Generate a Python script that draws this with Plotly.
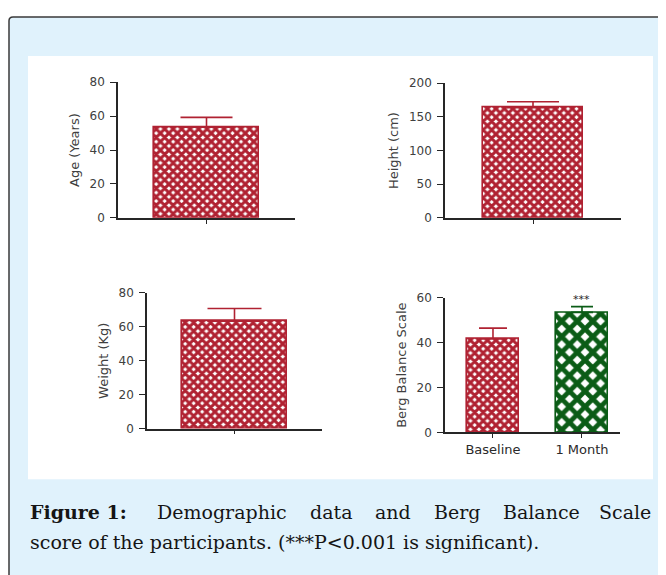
import plotly.graph_objects as go

# page body has an 8px margin, so the figure is sized/shifted to fit the 666x575 window
OFF = 8
W, H = 666 - OFF, 575 - OFF

# ---------------- data ----------------
age_cat = ["Age"]
age_mean = [53.5]
age_sem = [5.8]

height_cat = ["Height"]
height_mean = [163.8]
height_sem = [8.7]

weight_cat = ["Weight"]
weight_mean = [63.3]
weight_sem = [7.5]

berg_cat = ["Baseline", "1 Month"]
berg_mean = [41.7, 53.5]
berg_sem = [4.8, 2.6]
berg_sig = ["", "***"]

age_ticks = [0, 20, 40, 60, 80]
height_ticks = [0, 50, 100, 150, 200]
weight_ticks = [0, 20, 40, 60, 80]
berg_ticks = [0, 20, 40, 60]

caption_line1 = ["Figure 1:", "Demographic", "data", "and", "Berg", "Balance", "Scale"]
caption_line2 = "score of the participants. (***P<0.001 is significant)."

RED = "#b02232"
GREEN = "#0b5c16"
BG = "#e0f2fc"
AXC = "#262626"
TXT = "#404040"
SANS = "DejaVu Sans"


def px(x):
    return (x - OFF) / W


def py(y):
    return 1 - (y - OFF) / H


fig = go.Figure()


def bar(cats, vals, errs, color, psize, sol, xa, ya, width, capw):
    fig.add_trace(go.Bar(
        x=cats, y=vals, width=width,
        marker=dict(
            color="white",
            line=dict(color=color, width=1.6),
            pattern=dict(shape="x", fgcolor=color, bgcolor="white",
                         size=psize, solidity=sol, fillmode="replace"),
        ),
        error_y=dict(type="data", array=errs, arrayminus=[0] * len(errs),
                     symmetric=False, color=color, thickness=1.6, width=capw),
        xaxis=xa, yaxis=ya, showlegend=False,
    ))


bar(age_cat, age_mean, age_sem, RED, 6, 0.75, "x", "y", 0.59, 26)
bar(height_cat, height_mean, height_sem, RED, 6, 0.75, "x2", "y2", 0.57, 26)
bar(weight_cat, weight_mean, weight_sem, RED, 6, 0.75, "x3", "y3", 0.6, 27)
bar([berg_cat[0]], [berg_mean[0]], [berg_sem[0]], RED, 6, 0.75, "x4", "y4", 0.58, 14)
bar([berg_cat[1]], [berg_mean[1]], [berg_sem[1]], GREEN, 11, 0.68, "x4", "y4", 0.58, 11)

xcommon = dict(showline=True, linecolor=AXC, linewidth=1.6, showgrid=False,
               zeroline=False, ticks="outside", ticklen=4, tickcolor=AXC,
               tickwidth=1, fixedrange=True)
ycommon = dict(showline=True, linecolor=AXC, linewidth=1.6, showgrid=False,
               zeroline=False, ticks="outside", ticklen=6, tickcolor=AXC,
               tickwidth=1.3, tickfont=dict(family=SANS, size=12, color=TXT),
               ticklabelstandoff=3,
               title_font=dict(family=SANS, size=13, color=TXT),
               title_standoff=7, fixedrange=True)

fig.update_layout(
    width=W, height=H,
    margin=dict(l=0, r=0, t=0, b=0),
    paper_bgcolor="white", plot_bgcolor="rgba(0,0,0,0)",
    bargap=0,
    xaxis=dict(domain=[px(118), px(295)], anchor="y", range=[-0.5, 0.5],
               showticklabels=False, **xcommon),
    yaxis=dict(domain=[py(216), py(77)], anchor="x", range=[0, 80],
               tickvals=age_ticks, title_text="Age (Years)", **ycommon),
    xaxis2=dict(domain=[px(445), px(621)], anchor="y2", range=[-0.5, 0.5],
                showticklabels=False, **xcommon),
    yaxis2=dict(domain=[py(216), py(78)], anchor="x2", range=[0, 200],
                tickvals=height_ticks, title_text="Height (cm)", **ycommon),
    xaxis3=dict(domain=[px(147), px(322)], anchor="y3", range=[-0.5, 0.5],
                showticklabels=False, **xcommon),
    yaxis3=dict(domain=[py(432), py(293)], anchor="x3", range=[0, 80],
                tickvals=weight_ticks, title_text="Weight (Kg)", **ycommon),
    xaxis4=dict(domain=[px(445), px(620)], anchor="y4", range=[-0.539, 1.427],
                type="category", categoryorder="array", categoryarray=berg_cat,
                tickfont=dict(family=SANS, size=13, color="#2a2a2a"),
                **xcommon),
    yaxis4=dict(domain=[py(436), py(298)], anchor="x4", range=[0, 60],
                tickvals=berg_ticks, title_text="Berg Balance Scale", **ycommon),
)

# significance stars placed from data
for c, m, e, s in zip(berg_cat, berg_mean, berg_sem, berg_sig):
    if s:
        fig.add_annotation(x=c, y=m + e, xref="x4", yref="y4", text=s,
                           showarrow=False, yanchor="bottom", yshift=-1,
                           font=dict(family=SANS, size=11, color=AXC))

# light-blue frame with rounded top-left corner, then white panel
fx0, fy0 = px(9), py(10)
fig.add_shape(type="path", xref="paper", yref="paper", layer="below",
              path=(f"M {fx0},{py(700)} L {fx0},{py(14)} Q {fx0},{fy0} {px(13)},{fy0} "
                    f"L {px(720)},{fy0} L {px(720)},{py(700)} Z"),
              fillcolor=BG, line=dict(color="#3a3a3a", width=1.5))
fig.add_shape(type="rect", xref="paper", yref="paper", layer="below",
              x0=px(28), x1=px(653), y0=py(484), y1=py(50),
              fillcolor="white", line=dict(width=0))

# caption (justified first line)
cap_font = dict(family="DejaVu Serif", size=19, color="#151515")
line1_x = [28, 155, 308, 373, 432, 501, 653]
for i, (wd, xx) in enumerate(zip(caption_line1, line1_x)):
    txt = f"<b>{wd}</b>" if i == 0 else wd
    last = i == len(caption_line1) - 1
    fig.add_annotation(x=px(xx), y=py(518), xref="paper", yref="paper", text=txt,
                       showarrow=False, xanchor="right" if last else "left",
                       yanchor="middle", font=cap_font)
fig.add_annotation(x=px(28), y=py(548), xref="paper", yref="paper", text=caption_line2,
                   showarrow=False, xanchor="left", yanchor="middle", font=cap_font)

fig.write_html("out.html")
